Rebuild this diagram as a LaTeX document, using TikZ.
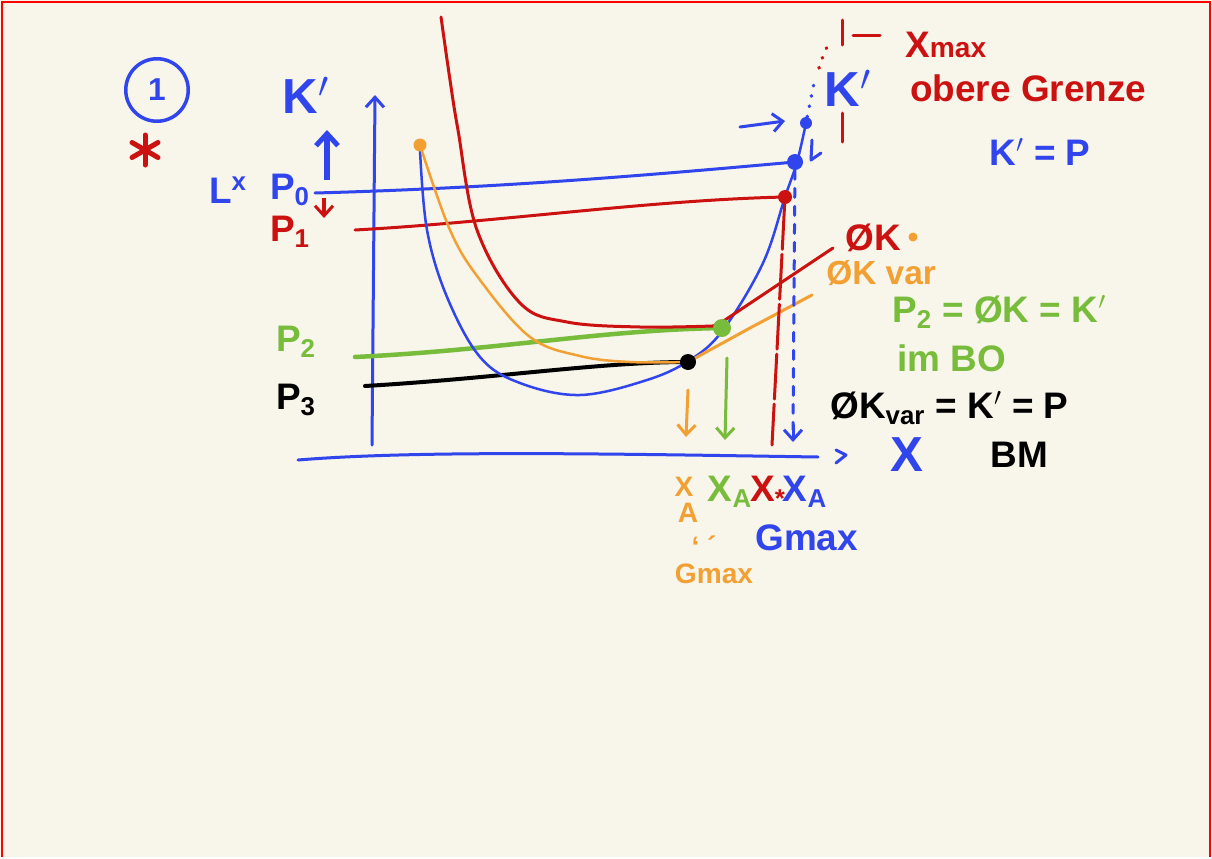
\documentclass[tikz,border=0pt]{standalone}
\usepackage{fontspec}
\setmainfont{Liberation Sans}
\usetikzlibrary{arrows.meta}
\definecolor{paper}{HTML}{F8F5EA}
\definecolor{penblue}{HTML}{3045EC}
\definecolor{penred}{HTML}{CC1111}
\definecolor{penorange}{HTML}{F2A033}
\definecolor{pengreen}{HTML}{78BC3C}
\begin{document}
\begin{tikzpicture}[x=0.2mm, y=-0.2mm,
    pen/.style={line width=0.6mm, line cap=round, line join=round},
    thinpen/.style={line width=0.5mm, line cap=round, line join=round},
    hand/.style={font=\bfseries\fontsize{21}{23}\selectfont, inner sep=0pt},
    bighand/.style={font=\bfseries\fontsize{28}{30}\selectfont, inner sep=0pt},
    smallhand/.style={font=\bfseries\fontsize{16}{16}\selectfont, inner sep=0pt},
    dot/.style={circle, fill, inner sep=0pt, minimum size=#1},
    barb/.style={-{Straight Barb[length=2mm, width=3.6mm, line width=0.6mm]}}]
    % paper and frame
    \fill[paper] (0,0) rectangle (1212,857);
    \draw[red, line width=0.5mm] (2,857) -- (2,2) -- (1210,2) -- (1210,857);
    \useasboundingbox (0,0) rectangle (1212,857);

    % axes
    \draw[pen, penblue, barb] (372,445) -- (375,95);
    \draw[pen, penblue] (298,460) .. controls (420,450) and (620,454) .. (818,457);
    \draw[pen, penblue] (836,450) -- (846,455) -- (836,463);
    \node[bighand, penblue] (xlab) at (907,455) {X};
    \node[bighand, penblue] (kprime) at (306,95) {K$'$};

    % marker top left
    \node[draw=penblue, line width=0.7mm, circle, minimum size=12.5mm, inner sep=0pt,
          font=\bfseries\fontsize{18}{18}\selectfont, text=penblue] (one) at (157,90) {1};
    \coordinate (star) at (145,150);
    \foreach \a in {90,30,150}
        \draw[penred, line width=1mm, line cap=round, shift={(star)}, rotate=\a] (-15,0) -- (15,0);

    % price lines
    \coordinate (p0dot) at (795,162);
    \coordinate (p1dot) at (785,197);
    \coordinate (p2dot) at (722,328);
    \coordinate (p3dot) at (688,362);
    \draw[pen, penblue] (315,193) .. controls (500,188) and (650,175) .. (p0dot);
    \draw[pen, penred] (355,230) .. controls (500,222) and (650,200) .. (p1dot);
    \draw[line width=0.9mm, line cap=round, pengreen] (355,357) .. controls (500,350) and (600,330) .. (p2dot);
    \draw[line width=0.8mm, line cap=round, black] (365,386) .. controls (500,378) and (600,362) .. (p3dot);

    % cost curves
    \draw[thinpen, penblue] plot[smooth, tension=0.6] coordinates {(420,150) (427,230) (447,297) (480,357) (520,383) (580,395) (647,380) (690,360) (723,330) (763,263) (785,197) (797,162) (806,123)};
    \draw[thinpen, penorange] plot[smooth, tension=0.6] coordinates {(420,145) (450,230) (480,280) (530,337) (580,356) (630,362) (p3dot)};
    \draw[pen, penorange] (p3dot) -- (750,328) -- (812,295);
    \draw[pen, penred] plot[smooth, tension=0.6] coordinates {(441,17) (450,80) (458,130) (477,230) (520,303) (567,322) (640,327) (713,326)};
    \draw[pen, penred] (713,326) -- (722,322) -- (833,248);

    % dots
    \node[dot=3.2mm, penblue] (p0pt) at (p0dot) {};
    \node[dot=2.4mm, penblue] (kpt) at (806,123) {};
    \node[dot=2.8mm, penred] (p1pt) at (p1dot) {};
    \node[dot=3.6mm, pengreen] (p2pt) at (p2dot) {};
    \node[dot=3.2mm, black] (p3pt) at (p3dot) {};
    \node[dot=2.6mm, penorange] (avcstart) at (420,145) {};

    % upper limit, dotted
    \draw[penblue, line width=0.7mm, line cap=round, dash pattern=on 0.1mm off 2mm] (kpt) -- (815,78);
    \draw[penred, line width=0.7mm, line cap=round, dash pattern=on 0.1mm off 2mm] (819,68) .. controls (823,55) and (826,48) .. (831,40);
    \draw[pen, penred] (842,20) -- (842,45);
    \draw[pen, penred] (853,35) -- (880,35);
    \draw[pen, penred] (842,113) -- (842,142);

    % verticals to the x axis
    \draw[pen, penred, dash pattern=on 9mm off 1mm] (p1pt) -- (772,445);
    \draw[pen, penblue, dash pattern=on 1.8mm off 1.8mm] (p0pt) -- (793,430);
    \draw[pen, penblue, barb] (793,425) -- (793,442);
    \draw[pen, penorange, barb] (688,390) -- (686,437);
    \draw[pen, pengreen, barb] (727,358) -- (725,440);

    % small arrows
    \draw[line width=1.1mm, penblue, -{Straight Barb[length=2.4mm, width=4.4mm, line width=1mm]}] (327,180) -- (327,130);
    \draw[line width=0.8mm, penred, barb] (324,198) -- (324,218);
    \draw[pen, penblue, barb] (740,127) -- (785,121);
    \draw[pen, penblue] (812,140) -- (811,160) -- (821,153);

    % left labels
    \node[hand, penblue] (lx) at (228,190) {L\textsuperscript{x}};
    \node[hand, penblue] (p0lab) at (290,190) {P\textsubscript{0}};
    \node[hand, penred] (p1lab) at (290,232) {P\textsubscript{1}};
    \node[hand, pengreen] (p2lab) at (296,342) {P\textsubscript{2}};
    \node[hand, black] (p3lab) at (296,400) {P\textsubscript{3}};

    % right labels
    \node[hand, penred, anchor=west] (xmax) at (905,45) {X\fontsize{16}{16}\selectfont max};
    \node[hand, penred, anchor=west] (grenze) at (910,88) {obere Grenze};
    \node[bighand, penblue] (kprime2) at (848,88) {K$'$};
    \node[hand, penblue] (kp) at (1040,152) {K$'$ = P};
    \node[hand, penred, anchor=west] (aclab) at (845,238) {ØK};
    \node[dot=1.8mm, penorange] (acdot) at (913,237) {};
    \node[hand, penorange, anchor=west, font=\bfseries\fontsize{19}{20}\selectfont] (avclab) at (826,273) {ØK var};
    \node[hand, pengreen, anchor=west] (bolab) at (892,312) {P\textsubscript{2} = ØK = K$'$};
    \node[hand, pengreen, anchor=west] (bo) at (897,358) {im BO};
    \node[hand, black, anchor=west] (bmlab) at (830,408) {ØK\textsubscript{var} = K$'$ = P};
    \node[hand, black, anchor=west] (bm) at (990,455) {BM};

    % quantities under the axis
    \node[smallhand, penorange] (xorange) at (684,487) {X};
    \node[smallhand, penorange] (aorange) at (688,513) {A};
    \node[hand, pengreen] (xgreen) at (730,492) {X\textsubscript{A}};
    \node[hand, penred] (xred) at (768,492) {X\textsubscript{*}};
    \node[hand, penblue] (xblue) at (805,492) {X\textsubscript{A}};
    \node[hand, penblue, anchor=west] (gmax) at (755,538) {Gmax};
    \node[smallhand, penorange] (quote) at (704,546) {` ´};
    \node[smallhand, penorange] (gmaxq) at (714,574) {Gmax};
\end{tikzpicture}
\end{document}
